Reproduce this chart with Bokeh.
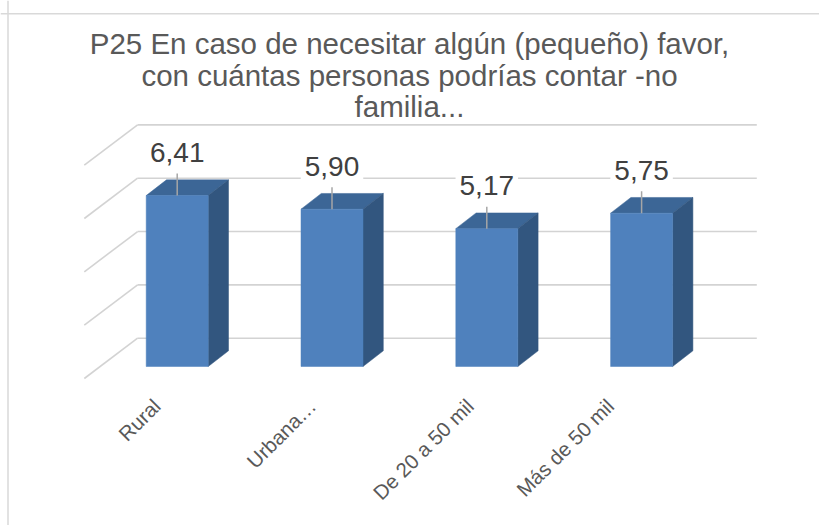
import math
from bokeh.plotting import figure
from bokeh.models import Range1d, Span, ColumnDataSource
from bokeh.core.properties import value
from bokeh.embed import file_html
from bokeh.resources import INLINE

# ---------------- data ----------------
categories = ["Rural", "Urbana…", "De 20 a 50 mil", "Más de 50 mil"]
values = [6.41, 5.90, 5.17, 5.75]
value_labels = ["6,41", "5,90", "5,17", "5,75"]
grid_values = [0, 2, 4, 6, 8]
title_lines = [
    "P25 En caso de necesitar algún (pequeño) favor,",
    "con cuántas personas podrías contar -no",
    "familia...",
]

# ---------------- layout constants ----------------
W, H = 819, 525
PX_X = 154.8      # pixels per category step
PX_Y = 26.667     # pixels per value unit
ORIGIN_X = 176.7  # px of first bar's front-face centre
ORIGIN_Y = 366.0  # px (from top) of value 0 on the bar front plane
FONT = "Liberation Sans"
CAT_SIZE = 20.5

# approximate advance widths (1/1000 em) of the sans font, for label placement
ADV = {"R": 722, "u": 556, "r": 333, "a": 556, "l": 222, "U": 722, "b": 556,
       "n": 556, "…": 1000, "D": 722, "e": 556, " ": 278, "2": 556, "0": 556,
       "5": 556, "m": 833, "i": 222, "M": 833, "á": 556, "s": 500, "d": 556}


def text_len(s, size):
    return sum(ADV.get(ch, 556) for ch in s) * size / 1000.0


def ux(px):
    return px / PX_X


def uy(px):
    return px / PX_Y


def fx(px):
    return 1 + (px - ORIGIN_X) / PX_X


def fy(py):
    return (ORIGIN_Y - py) / PX_Y


HALF_W = ux(31)                        # half bar width
DEP_X, DEP_Y = ux(20.3), uy(15.7)      # bar depth offset
BACK_X, BACK_Y = ux(37.8), uy(28.3)    # back wall offset from bar front plane
FRONT_X, FRONT_Y = ux(15.5), uy(12.0)  # front floor edge offset

p = figure(width=W, height=H, title=None,
           x_range=Range1d(fx(0), fx(W)), y_range=Range1d(fy(H), fy(0)),
           output_backend="svg", toolbar_location=None, min_border=0,
           x_axis_location=None, y_axis_location=None,
           outline_line_color=None, background_fill_color="white",
           border_fill_color="white")
p.grid.visible = False

# chart border (left + top)
p.add_layout(Span(location=fx(7.5), dimension="height", line_color="#d9d9d9", line_width=1.5))
p.add_layout(Span(location=fy(13.3), dimension="width", line_color="#d9d9d9", line_width=1.5))

n = len(categories)
xs = [i + 1 for i in range(n)]

# gridlines: back wall + left wall diagonals
gx, gy = [], []
for g in grid_values:
    gx.append([0.5 + BACK_X, n + 0.5 + BACK_X])
    gy.append([g + BACK_Y, g + BACK_Y])
    gx.append([0.5 - FRONT_X, 0.5 + BACK_X])
    gy.append([g - FRONT_Y, g + BACK_Y])
p.multi_line(gx, gy, line_color="#d3d3d3", line_width=1.6)

# bars
front_x, front_y, top_x, top_y, side_x, side_y = [], [], [], [], [], []
for c, v in zip(xs, values):
    l, r = c - HALF_W, c + HALF_W
    front_x.append([l, r, r, l]); front_y.append([0, 0, v, v])
    top_x.append([l, r, r + DEP_X, l + DEP_X]); top_y.append([v, v, v + DEP_Y, v + DEP_Y])
    side_x.append([r, r + DEP_X, r + DEP_X, r]); side_y.append([0, DEP_Y, v + DEP_Y, v])
p.patches(top_x, top_y, fill_color="#3c6696", line_color="#3c6696", line_width=0.5)
p.patches(side_x, side_y, fill_color="#32567f", line_color="#32567f", line_width=0.5)
p.patches(front_x, front_y, fill_color="#4f81bd", line_color="#4f81bd", line_width=0.5)

# leader lines + data labels
lab = ColumnDataSource(dict(
    x=xs, v=values, t=value_labels,
    ly=[v + uy(43) for v in values],
    l0=[v + uy(22) for v in values],
))
p.segment(x0="x", y0="l0", x1="x", y1="v", source=lab, line_color="#a6a6a6", line_width=1.5)
p.text(x="x", y="ly", text="t", source=lab, text_font=value(FONT), text_font_size="28px",
       text_color="#404040", text_align="center", text_baseline="middle",
       background_fill_color="white", padding=4)

# category labels (rotated 45 deg, centred along a slightly compressed row)
cx, cy = [], []
for i, (c, s) in enumerate(zip(xs, categories)):
    L = text_len(s, CAT_SIZE)
    centre = c - ux(43.0 + 12.9 * i)
    cx.append(centre + ux(0.3536 * (L + 0.716 * CAT_SIZE)))
    cy.append(fy(402))
cat = ColumnDataSource(dict(x=cx, y=cy, t=categories))
p.text(x="x", y="y", text="t", source=cat, angle=math.pi / 4, text_font=value(FONT),
       text_font_size=f"{CAT_SIZE}px", text_color="#595959", text_align="right",
       text_baseline="alphabetic")

# title
tcx = fx(409)
tit = ColumnDataSource(dict(x=[tcx] * 3, y=[fy(43), fy(75), fy(106)], t=title_lines))
p.text(x="x", y="y", text="t", source=tit, text_font=value(FONT), text_font_size="29.5px",
       text_color="#595959", text_align="center", text_baseline="alphabetic")

open("out.html", "w").write(file_html(p, INLINE))
